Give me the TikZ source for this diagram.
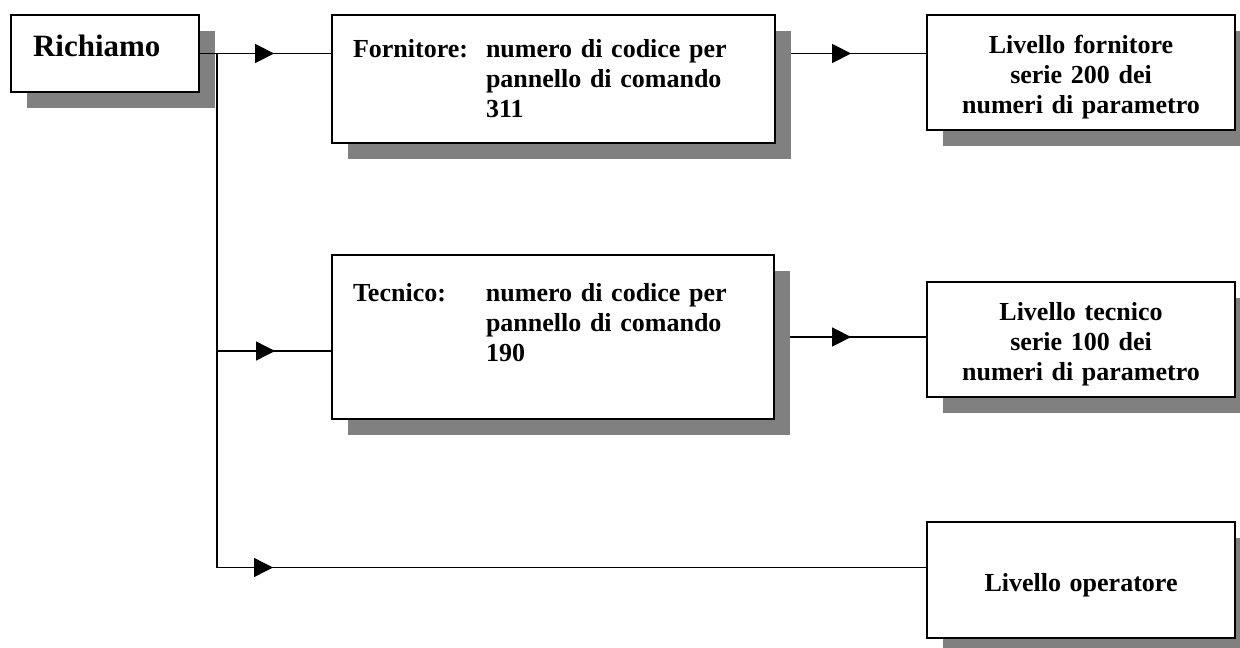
\documentclass[tikz,border=0pt]{standalone}
\usepackage{fontspec}
\setmainfont{Liberation Serif}
\usetikzlibrary{arrows.meta,shadows,backgrounds,decorations.markings}
\def\colgap{\hspace*{66.5pt}}

\tikzset{
	box/.style={draw, line width=1.1pt, fill=white, drop shadow={shadow xshift=8pt, shadow yshift=-8pt, fill=black!50, opacity=1}, font=\fontsize{13}{15}\selectfont\bfseries},
	levelbox/.style={box, minimum height=57.5pt, text width=140pt, inner xsep=7pt, align=center, execute at begin node={\rule{0pt}{14pt}}},
	link/.style={line width=0.7pt},
	tipat/.style={postaction={decorate, decoration={markings, mark=at position #1 with {\arrow{Triangle[length=9.5pt, width=9.5pt]}}}}}
}

\begin{document}
\begin{tikzpicture}[x=0.5pt, y=-0.5pt]
		%%%%% START %%%%%
		\useasboundingbox (0, 0) rectangle (1240, 647);
		
		\node[box, minimum height=38.5pt, text width=72pt, inner xsep=11pt, align=left, text depth=8pt, font=\fontsize{15.5}{18}\selectfont\bfseries] (richiamo) at (105, 53.5) {Richiamo};
		
		\node[box, minimum height=64pt, text width=200.5pt, inner xsep=10.5pt, align=left] (fornitore) at (553.5, 79) {\makebox[66.5pt][l]{Fornitore:}numero di codice per\\ \colgap pannello di comando\\ \colgap 311};
		\node[box, minimum height=82pt, text width=200pt, inner xsep=10.5pt, align=left] (tecnico) at (553, 337) {\makebox[66.5pt][l]{Tecnico:}numero di codice per\\ \colgap pannello di comando\\ \colgap 190\\ \mbox{}};
		
		\node[levelbox] (livfor) at (1081, 72.5) {Livello fornitore\\ serie 200 dei\\ numeri di parametro};
		\node[levelbox] (livtec) at (1081, 339.5) {Livello tecnico\\ serie 100 dei\\ numeri di parametro};
		\node[levelbox, minimum height=58pt] (livope) at (1081, 580) {Livello operatore};
		
		\coordinate (jt) at (217, 351);
		\coordinate (jo) at (217, 567.5);
		
		\draw[link, tipat=37pt] (richiamo.east) -- (richiamo.east -| fornitore.west);
		\draw[link] (richiamo.east -| jo) -- (jo);
		
		\begin{scope}[on background layer]
			\draw[link, tipat=29pt] (jt) -- (jt -| tecnico.west);
			\draw[link, tipat=28pt] (jo) -- (jo -| livope.west);
			\draw[link, tipat=37.5pt] (fornitore.east |- richiamo.east) -- (livfor.west |- richiamo.east);
			\draw[link, tipat=38pt] (tecnico.east) -- (tecnico.east -| livtec.west);
		\end{scope}
		
		%%%%% END %%%%%
\end{tikzpicture}
\end{document}
